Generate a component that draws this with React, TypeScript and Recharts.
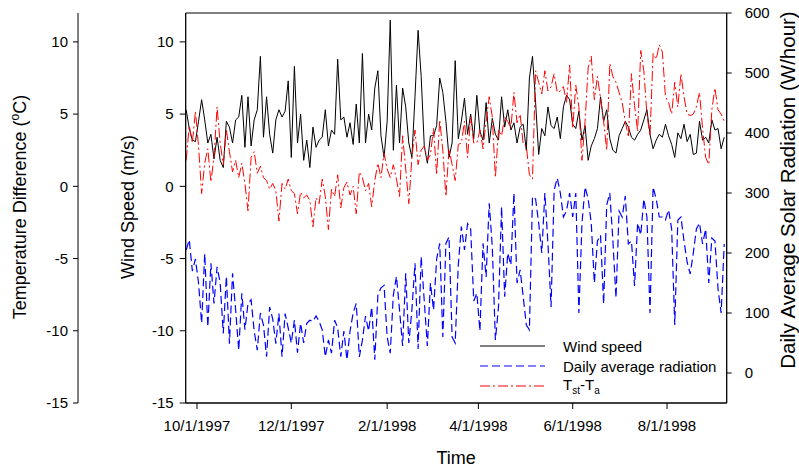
import { Label, Legend, Line, LineChart, ReferenceArea, XAxis, YAxis } from "recharts";

// Readings every second day, first one on 24 Sep 1997 (day -7, with 1 Oct 1997 = day 0).
const FIRST_DAY = -7;
const DAY_STEP = 2;

const windSpeed = [
  5.3, 4.0, 3.2, 3.1, 4.5, 6.0, 4.6, 3.0, 3.6, 1.9,
  3.4, 1.8, 1.3, 4.5, 4.1, 3.0, 4.6, 4.8, 6.3, 2.7,
  6.2, 2.8, 4.6, 5.3, 9.0, 3.4, 6.2, 3.6, 2.3, 4.6,
  5.3, 4.8, 5.2, 7.3, 2.0, 8.3, 3.0, 5.0, 1.8, 3.2,
  1.3, 4.1, 2.7, 3.2, 3.4, 5.3, 2.8, 3.9, 3.6, 8.8,
  4.6, 4.8, 3.4, 4.4, 2.9, 5.7, 3.0, 9.2, 3.0, 5.0,
  3.9, 6.8, 8.0, 3.5, 2.0, 4.5, 11.5, 2.5, 7.0, 3.0,
  6.8, 5.5, 3.0, 2.0, 6.2, 10.8, 7.6, 2.8, 1.6, 3.5,
  3.5, 4.2, 7.5, 6.5, 4.5, 2.0, 3.0, 8.7, 3.3, 4.5,
  6.1, 3.6, 5.0, 3.3, 6.3, 3.8, 3.2, 5.8, 3.0, 4.7,
  3.6, 3.2, 6.2, 4.1, 5.3, 3.9, 4.4, 3.0, 4.1, 4.3,
  2.5, 7.5, 9.0, 5.8, 2.2, 4.0, 3.5, 5.5, 4.2, 4.0,
  4.8, 3.3, 5.5, 6.3, 6.0, 4.3, 4.0, 5.2, 3.2, 4.2,
  1.8, 2.8, 3.3, 4.0, 6.2, 4.5, 5.3, 3.3, 2.5, 2.3,
  3.5, 4.0, 4.5, 4.1, 3.4, 3.2, 3.6, 3.9, 4.6, 5.3,
  3.6, 2.6, 3.2, 3.6, 3.4, 4.3, 3.5, 2.9, 2.0, 3.7,
  3.3, 4.3, 3.1, 3.6, 2.2, 2.3, 4.5, 3.2, 3.4, 3.0,
  4.6, 3.9, 4.0, 2.6, 3.4,
];

const radiation = [
  205, 222, 170, 190, 150, 83, 199, 77, 183, 116,
  177, 150, 66, 161, 49, 166, 105, 38, 133, 72,
  116, 122, 70, 38, 100, 80, 27, 110, 90, 49,
  99, 27, 99, 75, 50, 88, 34, 83, 50, 83,
  88, 86, 95, 86, 72, 27, 55, 33, 88, 75,
  27, 70, 22, 70, 100, 116, 27, 55, 95, 70,
  110, 22, 130, 142, 146, 60, 33, 130, 161, 105,
  45, 166, 50, 105, 183, 40, 194, 120, 45, 150,
  105, 190, 216, 60, 216, 227, 60, 50, 180, 244,
  205, 249, 240, 120, 133, 70, 216, 160, 283, 210,
  55, 110, 277, 127, 200, 180, 300, 150, 172, 127,
  80, 72, 294, 290, 250, 200, 300, 215, 110, 305,
  325, 300, 260, 270, 300, 260, 300, 100, 250, 310,
  290, 250, 150, 220, 230, 115, 280, 300, 220, 125,
  270, 260, 295, 215, 220, 145, 250, 230, 290, 260,
  100, 310, 290, 260, 260, 255, 272, 240, 80, 255,
  260, 220, 185, 165, 200, 240, 250, 215, 240, 150,
  225, 220, 140, 100, 215,
];

// Soil surface minus air temperature, °C
const tempDiff = [
  1.8, 4.2, 3.0, 5.2, 2.8, -0.5, 1.6, 2.6, 0.3, 2.0,
  5.5, 3.0, 1.5, 3.9, 2.4, 1.0, 1.8, 0.6, 1.6, 0.2,
  -1.7, 2.0, 2.4, 0.9, 1.4, 0.6, 0.4, -0.2, 0.2, -0.3,
  -2.4, 0.2, -0.2, 0.5, -0.3, -0.5, -1.9, -0.4, -0.8, -0.6,
  -1.0, -2.8, -0.8, -1.2, 0.5, -0.7, -3.0, -0.2, -0.7, 0.8,
  -1.5, -0.1, 0.3, -0.6, 0.0, -1.9, 1.0, 0.6, -0.3, 0.2,
  -1.4, 0.4, 1.6, 0.6, 2.3, 1.2, 0.6, 1.5, 0.5, -0.7,
  3.5, 1.2, -1.2, 2.0, 3.9, 1.5, 2.5, 2.8, 1.8, 2.2,
  4.0, 0.8, 4.6, 2.5, -0.7, 2.6, 1.5, 0.4, 2.9, 3.0,
  4.5, 2.0, 4.8, 3.0, 3.0, 3.9, 2.6, 4.5, 6.2, 4.8,
  0.6, 3.9, 3.5, 4.8, 4.5, 4.0, 6.5, 4.4, 5.0, 2.9,
  2.8, 0.8, 0.5, 8.0, 7.2, 6.4, 8.0, 6.6, 6.9, 7.8,
  6.5, 6.6, 6.9, 5.8, 8.4, 4.0, 7.0, 5.5, 1.8, 4.5,
  8.2, 9.0, 6.0, 7.6, 6.1, 4.5, 2.5, 8.5, 7.6, 7.2,
  6.5, 5.8, 4.5, 3.4, 7.8, 5.6, 3.8, 9.4, 8.0, 5.0,
  3.5, 9.2, 8.8, 9.8, 9.3, 6.2, 5.8, 5.0, 7.2, 5.5,
  7.8, 6.2, 5.0, 4.9, 5.0, 5.5, 6.5, 4.0, 2.0, 1.5,
  5.3, 6.8, 5.3, 5.0, 4.5,
];

const dateTicks = [0, 61, 123, 182, 243, 304];
const dateLabels = ["10/1/1997", "12/1/1997", "2/1/1998", "4/1/1998", "6/1/1998", "8/1/1998"];
const leftTicks = [-15, -10, -5, 0, 5, 10];
const radiationTicks = [0, 100, 200, 300, 400, 500, 600];

const DAY_DOMAIN: [number, number] = [-7.3, 342.6];
const LEFT_DOMAIN: [number, number] = [-15, 12];
const RADIATION_DOMAIN: [number, number] = [-50, 600];

const FONT = '"Liberation Sans", Arial, sans-serif';

const rows = windSpeed.map((wind, i) => ({
  day: FIRST_DAY + i * DAY_STEP,
  wind,
  radiation: radiation[i],
  temp: tempDiff[i],
}));

// axis ids: "a-speed" is the left axis next to the plot, "b-temp" the outer one
const series = [
  { key: "wind", name: "Wind speed", axis: "a-speed", color: "#000000", dash: undefined, width: 1 },
  { key: "radiation", name: "Daily average radiation", axis: "radiation", color: "#0000ff", dash: "8 4", width: 1.2 },
  { key: "temp", name: "Tst-Ta", axis: "b-temp", color: "#ff0000", dash: "10 3 2 3", width: 1 },
];

const tickStyle = { fill: "#000", fontSize: 15, fontFamily: FONT };
const lineStyle = { stroke: "#000" };

// rotated axis title; `baseline` is measured from the left edge of the axis box
const verticalTitle =
  (baseline: number, fontSize: number, shift: number, children: React.ReactNode) =>
  (props: any) => {
    const vb = props.viewBox;
    if (!vb) return null;
    const x = vb.x + baseline;
    const y = vb.y + vb.height / 2 + shift;
    return (
      <text
        x={x}
        y={y}
        transform={`rotate(-90 ${x} ${y})`}
        textAnchor="middle"
        fontSize={fontSize}
        fontFamily={FONT}
        fill="#000"
      >
        {children}
      </text>
    );
  };

const timeTitle = (props: any) => {
  const vb = props.viewBox;
  if (!vb) return null;
  return (
    <text x={vb.x + vb.width / 2} y={vb.y + 61} textAnchor="middle" fontSize={18} fontFamily={FONT} fill="#000">
      Time
    </text>
  );
};

const seriesLabel = (key: string, name: string) =>
  key === "temp" ? (
    <span>
      T<sub style={{ fontSize: 10 }}>st</sub>-T<sub style={{ fontSize: 10 }}>a</sub>
    </span>
  ) : (
    name
  );

const renderLegend = () => (
  <div style={{ fontFamily: FONT, fontSize: 15, color: "#000" }}>
    {series.map((s) => (
      <div key={s.key} style={{ display: "flex", alignItems: "center", height: 20 }}>
        <svg width={65} height={10}>
          <line x1={0} y1={5} x2={65} y2={5} stroke={s.color} strokeWidth={s.width} strokeDasharray={s.dash} />
        </svg>
        <span style={{ marginLeft: 18, whiteSpace: "nowrap" }}>{seriesLabel(s.key, s.name)}</span>
      </div>
    ))}
  </div>
);

export default function App() {
  return (
    <div style={{ position: "absolute", left: 0, top: 0 }}>
      <LineChart width={799} height={468} data={rows} margin={{ top: 13, right: 0, bottom: 0, left: 0 }}>
        <XAxis
          dataKey="day"
          type="number"
          domain={DAY_DOMAIN}
          allowDataOverflow
          ticks={dateTicks}
          interval={0}
          tickFormatter={(v: number) => dateLabels[dateTicks.indexOf(v)] ?? ""}
          height={65}
          tickSize={6}
          tickMargin={11}
          tick={tickStyle}
          axisLine={lineStyle}
          tickLine={lineStyle}
        >
          <Label content={timeTitle} />
        </XAxis>
        <YAxis
          yAxisId="a-speed"
          orientation="left"
          width={107.7}
          domain={LEFT_DOMAIN}
          allowDataOverflow
          ticks={leftTicks}
          interval={0}
          tickSize={6}
          tickMargin={6}
          tick={tickStyle}
          axisLine={lineStyle}
          tickLine={lineStyle}
        >
          <Label content={verticalTitle(55.7, 18, -1, "Wind Speed (m/s)")} />
        </YAxis>
        <YAxis
          yAxisId="b-temp"
          orientation="left"
          width={78}
          domain={LEFT_DOMAIN}
          allowDataOverflow
          ticks={leftTicks}
          interval={0}
          tickSize={5}
          tickMargin={5}
          tick={tickStyle}
          axisLine={lineStyle}
          tickLine={lineStyle}
        >
          <Label
            content={verticalTitle(
              26,
              18,
              -1,
              <>
                Temperature Difference (<tspan fontSize={12} dy={-7}>o</tspan>
                <tspan dy={7}>C)</tspan>
              </>
            )}
          />
        </YAxis>
        <YAxis
          yAxisId="radiation"
          orientation="right"
          width={72.3}
          domain={RADIATION_DOMAIN}
          allowDataOverflow
          ticks={radiationTicks}
          interval={0}
          tickSize={5}
          tickMargin={13}
          tick={tickStyle}
          axisLine={lineStyle}
          tickLine={lineStyle}
        >
          <Label content={verticalTitle(68, 20.5, -18, "Daily Average Solar Radiation (W/hour)")} />
        </YAxis>

        <ReferenceArea
          yAxisId="a-speed"
          x1={DAY_DOMAIN[0]}
          x2={DAY_DOMAIN[1]}
          y1={LEFT_DOMAIN[0]}
          y2={LEFT_DOMAIN[1]}
          fill="none"
          stroke="#000"
          strokeWidth={1}
        />

        {series.map((s) => (
          <Line
            key={s.key}
            yAxisId={s.axis}
            dataKey={s.key}
            name={s.name}
            type="linear"
            stroke={s.color}
            strokeWidth={s.width}
            strokeDasharray={s.dash}
            dot={false}
            activeDot={false}
            isAnimationActive={false}
          />
        ))}

        <Legend
          layout="vertical"
          align="center"
          verticalAlign="middle"
          content={renderLegend}
          wrapperStyle={{ left: 480, top: 336, width: "auto", height: "auto" }}
        />
      </LineChart>
    </div>
  );
}
